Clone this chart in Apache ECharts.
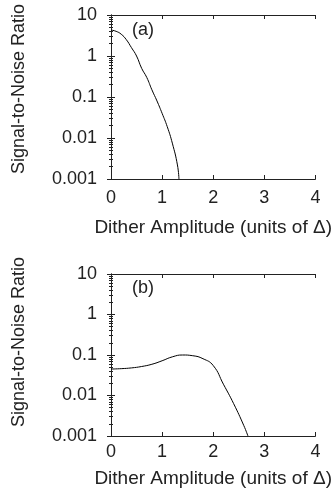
<!DOCTYPE html>
<html>
<head>
<meta charset="utf-8">
<script src="https://cdn.jsdelivr.net/npm/echarts@6/dist/echarts.min.js"></script>
<style>
  html, body { margin: 0; padding: 0; background: #fff; }
  #chart { width: 334px; height: 497px; }
</style>
</head>
<body>
<div id="chart"></div>
<script>
// panel (a)
var xA = [0, 0.1, 0.2, 0.3, 0.4, 0.5, 0.6, 0.7, 0.8, 0.9, 1.0, 1.1, 1.2, 1.3, 1.33];
var snrA = [4.3, 4.0, 3.4, 2.5, 1.6, 1.0, 0.5, 0.3, 0.15, 0.08, 0.04, 0.019, 0.0075, 0.0022, 0.001];
// panel (b)
var xB = [0, 0.2, 0.4, 0.6, 0.8, 1.0, 1.2, 1.4, 1.6, 1.8, 2.0, 2.2, 2.4, 2.6, 2.68];
var snrB = [0.045, 0.046, 0.048, 0.052, 0.059, 0.072, 0.09, 0.1, 0.096, 0.081, 0.055, 0.019, 0.0063, 0.0018, 0.001];
var panelLabels = ['(a)', '(b)'];
var xTitle = 'Dither Amplitude (units of Δ)';
var yTitle = 'Signal-to-Noise Ratio';

var chart = echarts.init(document.getElementById('chart'));
var font = 'Liberation Sans, Arial, Helvetica, sans-serif';
var ink = '#222';

function pairs(xs, ys) {
    return xs.map(function (x, i) { return [x, ys[i]]; });
}

var grids = [
    {left: 111, top: 15, width: 205, height: 164},
    {left: 111, top: 274, width: 205, height: 162}
];
var labelMargins = [10, 7];
var nameGaps = [39, 33];

var xAxes = [];
var yAxes = [];
var series = [];

grids.forEach(function (g, i) {
    // bottom axis with labels
    xAxes.push({
        type: 'value', gridIndex: i, min: 0, max: 4, interval: 1,
        name: xTitle, nameLocation: 'middle', nameGap: nameGaps[i],
        nameTextStyle: {fontFamily: font, fontSize: 19, color: ink},
        axisLine: {lineStyle: {color: ink, width: 1}},
        axisTick: {inside: true, length: 4, lineStyle: {color: ink}},
        axisLabel: {fontFamily: font, fontSize: 18, color: ink, margin: labelMargins[i]},
        splitLine: {show: false}
    });
    // top frame
    xAxes.push({
        type: 'value', gridIndex: i, position: 'top', min: 0, max: 4, interval: 1,
        axisLine: {lineStyle: {color: ink, width: 1}},
        axisTick: {inside: true, length: 4, lineStyle: {color: ink}},
        axisLabel: {show: false},
        splitLine: {show: false}
    });
    // left log axis
    yAxes.push({
        type: 'log', gridIndex: i, min: 0.001, max: 10, logBase: 10,
        axisLine: {show: true, lineStyle: {color: ink, width: 1}},
        axisTick: {inside: true, length: 4, lineStyle: {color: ink}},
        minorTick: {show: true, splitNumber: 9, length: 2, lineStyle: {color: ink}},
        axisLabel: {fontFamily: font, fontSize: 18, color: ink, margin: 14,
            formatter: function (v) { return String(v); }},
        splitLine: {show: false}
    });
    // right frame
    yAxes.push({
        type: 'log', gridIndex: i, position: 'right', min: 0.001, max: 10, logBase: 10,
        axisLine: {show: true, lineStyle: {color: ink, width: 1}},
        axisTick: {inside: true, length: 4, lineStyle: {color: ink}},
        minorTick: {show: true, splitNumber: 9, length: 2, lineStyle: {color: ink}},
        axisLabel: {show: false},
        splitLine: {show: false}
    });
});

series.push({
    type: 'line', xAxisIndex: 0, yAxisIndex: 0, smooth: true, showSymbol: false,
    lineStyle: {color: '#000', width: 1}, data: pairs(xA, snrA), silent: true
});
series.push({
    type: 'line', xAxisIndex: 2, yAxisIndex: 2, smooth: true, showSymbol: false,
    lineStyle: {color: '#000', width: 1}, data: pairs(xB, snrB), silent: true
});

function yTitleText(cy) {
    return {
        type: 'text', x: 19, y: cy, rotation: Math.PI / 2,
        style: {text: yTitle, font: '18px ' + font, fill: ink, align: 'center', verticalAlign: 'middle'}
    };
}

var option = {
    animation: false,
    grid: grids,
    xAxis: xAxes,
    yAxis: yAxes,
    series: series,
    graphic: [
        yTitleText(89),
        yTitleText(342),
        {type: 'text', left: 132, top: 21, style: {text: panelLabels[0], font: '18px ' + font, fill: ink}},
        {type: 'text', left: 132, top: 279, style: {text: panelLabels[1], font: '18px ' + font, fill: ink}}
    ]
};
chart.setOption(option);
</script>
</body>
</html>
